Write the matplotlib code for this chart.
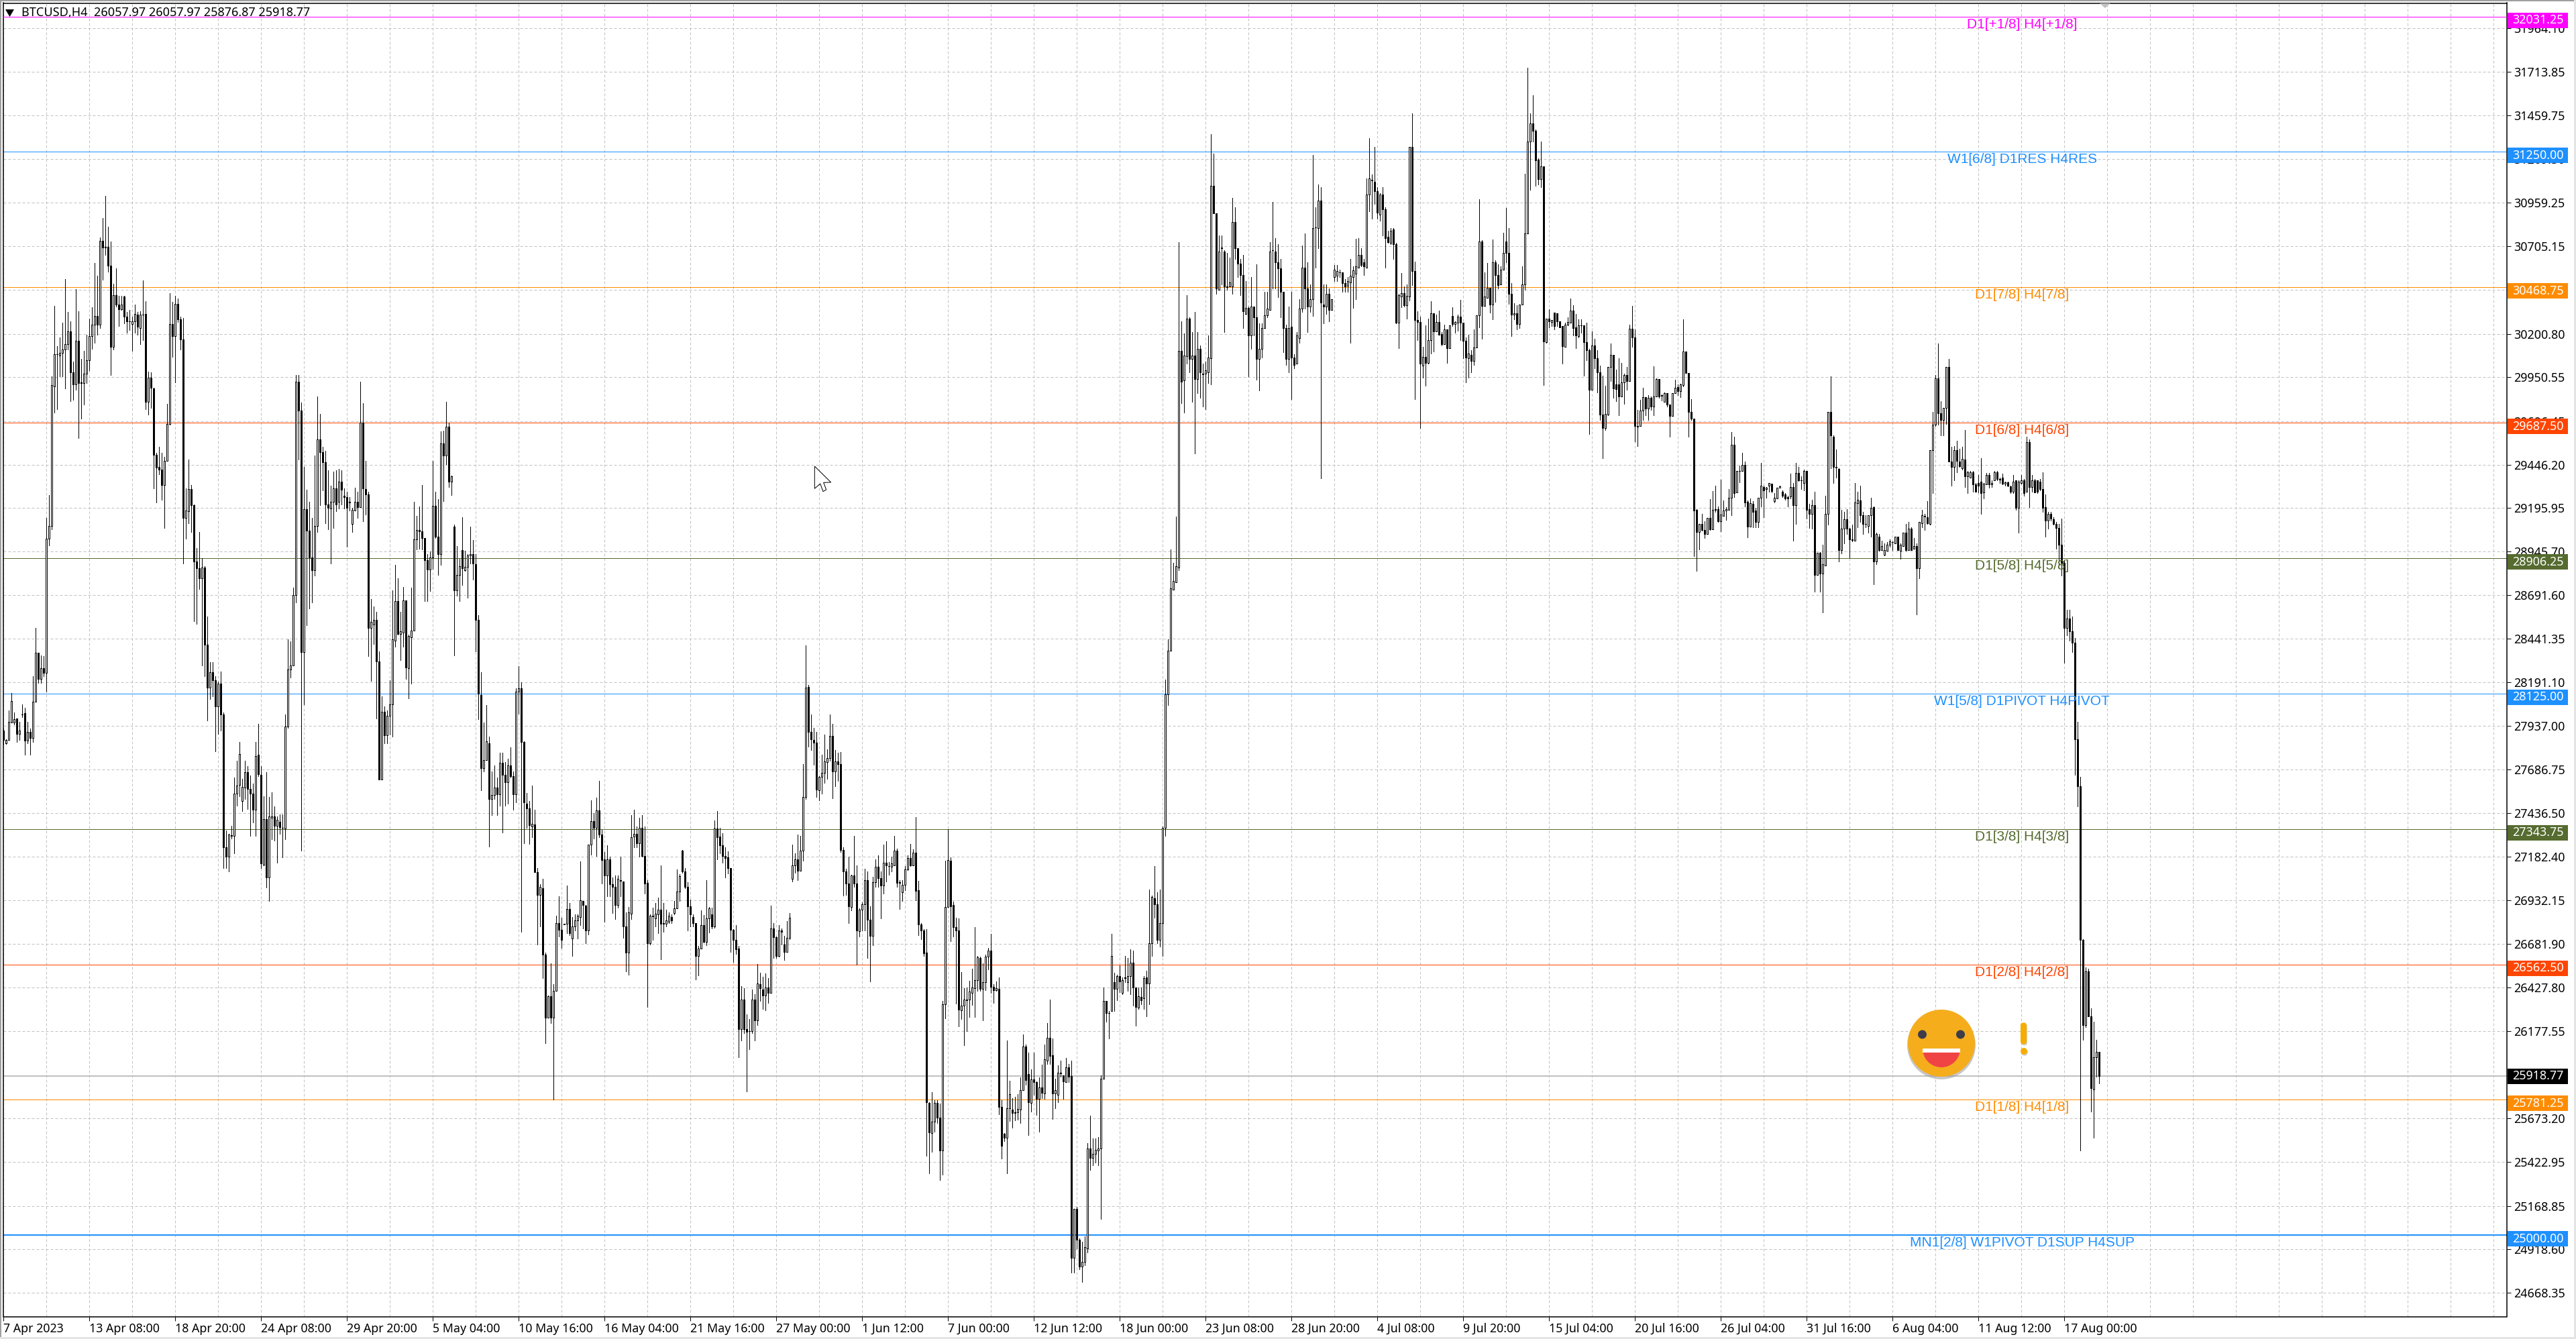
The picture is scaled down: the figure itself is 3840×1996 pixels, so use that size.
import numpy as np
import matplotlib
matplotlib.use('Agg')
import matplotlib.pyplot as plt
from matplotlib.patches import Ellipse, FancyBboxPatch, Polygon, Rectangle, Wedge

plt.rcParams['font.family'] = ['Noto Sans', 'DejaVu Sans']

# candles as (open, high, low, close), one list per stretch of the chart
bars_apr = [
(27911,27924,27831,27858),(27839,27860,27835,27858),(27858,28029,27858,27963),(27958,28127,27958,28082),(27958,28016,27945,27977),
(27982,27982,27845,27892),(27892,27963,27858,27911),(28005,28061,27990,28003),(28011,28043,27771,27852),(27852,27963,27837,27903),
(27903,27924,27771,27871),(27871,28227,27845,28077),(28077,28505,28077,28362),(28362,28362,28188,28209),(28209,28346,28188,28272),
(28272,28341,28227,28246),(28246,29138,28135,29019),(29019,29270,28980,29093),(29093,29957,29072,29904),(29898,30363,29745,30083),
(30083,30128,29767,30081),(30075,30181,29957,30089),(30089,30265,29957,30110),(30110,30516,29885,30141),(30141,30326,30110,30213),
(30213,30273,29811,29978),(29978,30041,29819,29909),(29909,30458,29877,30160),(30160,30331,29600,29917),(29917,30057,29711,29919),
(29917,30102,29793,29970),(29970,30194,29917,30049),(30049,30287,29991,30186),(30186,30353,30115,30255),(30255,30609,30149,30302),
(30302,30537,30194,30255),(30255,30757,30234,30738),(30738,30867,30511,30698),(30701,30997,30656,30700),(30701,30817,30558,30595),
(30595,30735,29962,30126),(30126,30490,30110,30424),(30424,30577,30358,30368),(30368,30419,30247,30342),(30342,30419,30339,30368),
(30416,30419,30260,30300),(30300,30326,30207,30273),(30273,30339,30221,30272),(30258,30300,30102,30273),(30273,30371,30207,30316),
(30313,30326,30194,30242),(30234,30331,30141,30310),(30313,30508,30163,30313),(30316,30387,29764,29809),(29809,29983,29735,29949),
(29949,29978,29772,29888),(29885,29891,29307,29503),(29503,29513,29228,29429),(29434,29547,29389,29418),(29418,29513,29244,29328),
(29328,29492,29080,29466),(29466,29798,29466,29682),(29682,30437,29677,30258),(30258,30384,30067,30189),(30189,30419,29922,30374),
(30374,30405,30268,30284),(30284,30300,30110,30168),(30168,30292,28874,29138),(29138,29310,29019,29180),(29178,29476,29107,29304),
(29304,29328,29059,29212),(29212,29217,28542,28887),(28887,28964,28526,28848),(28848,29059,28729,28790),(28790,28906,28288,28853),
(28853,28861,28225,28407),(28407,28571,27969,28161),(28161,28307,28095,28248),(28248,28307,28109,28201),(28201,28227,27792,28050),
(28050,28193,27892,28183),(28183,28254,27911,28003),(28003,28016,27119,27237),(27237,27335,27119,27185),(27185,27317,27100,27311),
(27309,27364,27290,27305),(27303,27639,27203,27549),(27549,27739,27480,27594),(27599,27845,27533,27776),(27507,27633,27449,27586),
(27581,27739,27515,27673),(27673,27707,27457,27575),(27575,27652,27303,27549),(27549,27607,27383,27454),(27454,27845,27303,27765),
(27771,27950,27647,27660),(27655,27707,27119,27145),(27137,27533,27132,27401),(27401,27673,27007,27066),(27066,27528,26929,27417),
(27409,27554,27285,27417),(27417,27475,27277,27364),(27364,27417,27150,27396),(27385,27428,27317,27354),(27351,27428,27179,27351),
(27348,28003,27285,27934),(27934,28439,27929,28262),(28262,28425,28219,28288),(28288,28737,28288,28695),(28695,29962,28650,29925),
(29925,29962,29476,29759),(29759,29803,27219,28365),(28365,29434,28064,29188),(29188,29302,28518,29064),(29064,29233,28615,28909),
(28909,29138,28650,28835),(28835,29500,28806,29091),(29091,29838,29059,29590),(29590,29740,29212,29518),(29518,29547,29297,29460),
(29460,29524,29107,29217),(29217,29415,29072,29196),(29191,29323,28874,29233),(29233,29407,29080,29307),(29307,29415,29178,29217),
(29233,29423,29191,29347),(29347,29415,29217,29302),(29265,29310,29191,29260),(29257,29291,28972,29196),(29230,29260,29180,29228),
]

bars_may = [
(29104,29197,29058,29184),(29181,29312,29180,29232),(29232,29290,29138,29202),(29202,29925,29202,29688),(29688,29802,29120,29309),
(29304,29469,29157,29274),(29274,29290,28341,28504),(28504,28672,28197,28538),(28522,28629,28410,28552),(28552,28597,27981,28312),
(28312,28367,27629,27629),(27629,28109,27629,28021),(28021,28050,27837,27885),(27885,28029,27837,27997),(27997,28202,27890,28063),
(28063,28722,27877,28437),(28431,28869,28397,28658),(28658,28792,28464,28469),(28469,28597,28317,28485),(28477,28741,28397,28664),
(28664,28664,28210,28277),(28272,28464,28096,28456),(28450,28736,28183,28490),(28488,29232,28488,29016),(29016,29152,28957,29069),
(29069,29205,28962,29061),(29061,29330,28957,29024),(29024,29024,28658,28896),(28896,28930,28658,28842),(28842,28944,28717,28909),
(28909,29469,28845,29210),(29210,29290,29024,29032),(29032,29245,28810,28930),(28930,29637,28869,29570),(29570,29642,29237,29498),
(29498,29810,29450,29664),(29664,29690,29317,29349),(29349,29384,29269,29378),(29090,29098,28344,28720),(28720,28976,28690,28810),
(28810,28904,28658,28858),(28954,29144,28752,28848),(28837,28949,28832,28856),(28856,28930,28677,28922),(28922,29090,28877,28930),
(28930,29010,28784,28877),(28872,28930,28370,28549),(28549,28576,27976,28125),(28117,28250,27567,27695),(27695,27957,27677,27743),
(27743,28058,27743,27850),(27839,27877,27242,27517),(27517,27677,27423,27541),(27541,27711,27517,27583),(27583,27642,27423,27543),
(27543,27783,27477,27727),(27727,27783,27325,27658),(27658,27730,27477,27615),(27615,27749,27490,27709),(27709,27815,27642,27650),
(27650,27677,27455,27543),(27543,28157,27498,28136),(28138,28285,28010,28157),(28157,28192,26749,27845),(27845,27850,27263,27498),
(27490,27551,27349,27463),(27463,27504,27258,27365),(27359,27594,27298,27375),(27370,27455,27095,27095),(27095,27117,26677,26965),
(26965,27024,26783,27010),(27002,27055,26482,26618),(26618,26631,26108,26255),(26255,26383,26255,26378),(26378,26570,26223,26255),
(26255,26450,25783,26410),(26410,26845,26410,26799),(26799,26957,26725,26762),(26762,26831,26658,26703),(26797,26797,26793,26795),
(26797,27018,26743,26882),(26882,26917,26730,26743),(26711,26837,26610,26783),(26783,26850,26757,26818),(26815,26850,26711,26842),
(26837,27157,26789,26933),(26930,26930,26770,26904),(26901,26906,26685,26757),(26757,27255,26735,27253),(27253,27509,27197,27391),
(27391,27437,27290,27351),(27351,27525,27189,27453),(27453,27623,27295,27311),(27311,27338,27029,27165),(27170,27210,26810,27077),
(27077,27250,26957,27170),(27170,27184,26957,27024),(27024,27063,26858,27010),(27010,27077,26823,26904),(26904,27077,26890,27058),
(27048,27184,26957,27046),(27042,27042,26717,26783),(26783,26863,26522,26629),(26629,26895,26503,26863),(26855,27423,26823,27298),
(27300,27455,27237,27314),(27314,27357,27237,27263),(27263,27410,27184,27349),(27349,27423,27184,27189),(27189,27357,26970,27029),
(27034,27050,26317,26685),(26685,26850,26677,26845),(26842,26890,26704,26840),(26829,26917,26783,26855),(26850,26949,26743,26877),
(26877,27135,26591,26797),(26799,26917,26749,26797),(26797,26877,26783,26815),(26810,26863,26802,26845),(26837,26850,26802,26815),
(26858,26930,26850,26885),(26885,27109,26885,26983),(26983,27082,26930,27071),(27218,27223,27090,27098),(27098,27117,27002,27010),
(27010,27037,26757,26898),(26898,26938,26783,26850),(26837,26850,26783,26802),(26802,26802,26477,26610),(26610,26671,26498,26655),
]

bars_jun = [
(26655,26873,26655,26789),(26789,26849,26689,26693),(26693,27049,26673,26829),(26829,26893,26745,26885),(26853,26889,26769,26783),
(26783,27393,26773,27345),(27345,27449,27169,27297),(27299,27349,27205,27249),(27249,27319,27149,27189),(27189,27239,27065,27177),
(27179,27215,27089,27119),(27119,27119,26633,26763),(26763,26765,26577,26703),(26703,26789,26623,26651),(26653,26669,26025,26189),
(26189,26439,26125,26361),(26361,26425,26165,26189),(26189,26273,25829,26175),(26179,26249,26073,26177),(26179,26417,26165,26361),
(26361,26389,26125,26239),(26239,26565,26213,26451),(26449,26513,26353,26425),(26419,26493,26305,26383),(26383,26509,26299,26429),
(26429,26485,26339,26399),(26399,26901,26399,26769),(26769,26799,26599,26719),(26719,26725,26599,26613),(26613,26789,26609,26759),
(26759,26769,26679,26749),(26679,26729,26589,26633),(26633,26813,26633,26717),(26717,26859,26709,26833),(27057,27255,27039,27135),
(27135,27205,27093,27169),(27169,27313,27049,27103),(27103,27305,27103,27219),(27219,27719,27159,27529),(27529,28403,27515,28159),
(28163,28173,27819,27905),(27905,28005,27799,27863),(27857,27929,27713,27843),(27843,27905,27529,27573),(27569,27649,27509,27645),
(27645,27773,27549,27669),(27669,27889,27609,27733),(27729,27805,27633,27753),(27753,28005,27739,27879),(27879,27949,27519,27675),
(27675,27799,27589,27733),(27733,27785,27623,27719),(27719,27789,27213,27223),(27223,27239,26959,27099),(27099,27113,26965,27029),
(27029,27185,26799,26899),(26895,27079,26873,27075),(27075,27303,27009,27029),(27029,27133,26561,26759),(26755,26885,26725,26879),
(26879,26919,26759,26909),(26909,27113,26759,27049),(27049,27099,26599,26819),(26819,26899,26465,26729),(26729,27069,26673,27037),
(27037,27169,27009,27125),(27125,27193,27009,27059),(27059,27099,26829,27019),(27019,27253,26973,27151),(27151,27273,27039,27133),
(27131,27153,27079,27129),(27127,27185,27099,27147),(27135,27303,27135,27217),(27217,27229,27009,27033),(27037,27049,26883,27035),
(26979,27049,26929,27021),(27021,27129,26989,27109),(27109,27193,27105,27175),(27175,27259,27129,27135),(27135,27225,27135,27209),
(27209,27413,26933,26985),(26989,27043,26733,26793),(26793,26799,26709,26759),(26759,26765,26613,26625),(26629,26765,25459,25769),
(25765,25769,25359,25593),(25589,25825,25483,25655),(25655,25779,25599,25763),(25763,25779,25649,25679),(25679,25759,25319,25489),
(25489,26353,25349,26333),(26333,27159,26253,26895),(26895,27343,26895,27163),(27159,27179,26695,26899),(26905,26925,26725,26779),
(26779,26833,26337,26759),(26759,26829,26205,26303),(26299,26519,26249,26325),(26325,26425,26097,26359),(26359,26429,26179,26357),
(26359,26469,26259,26405),(26399,26539,26329,26429),(26425,26777,26259,26473),(26473,26613,26409,26605),(26601,26609,26409,26423),
(26423,26569,26239,26461),(26459,26619,26413,26609),(26609,26659,26533,26641),(26641,26739,26399,26433),(26433,26449,26339,26413),
(26413,26465,26409,26425),(26423,26489,25697,25741),(25741,25779,25443,25517),(25585,25589,25545,25561),(25563,26123,25359,25733),
(25733,25893,25659,25813),(25725,25789,25619,25705),(25709,25799,25663,25707),(25709,25813,25665,25727),(25725,25909,25649,25839),
(25839,26159,25839,26089),(26089,26099,25869,25895),(25929,26053,25579,25769),(25765,25959,25713,25899),(25899,26053,25809,25883),
(25883,25887,25693,25785),(25785,25909,25599,25853),(25853,25983,25789,25823),(25819,26099,25785,26015),(26009,26223,25989,26139),
(26139,26359,25989,26033),
]

bars_jul = [
(26038,26136,25671,25819),(25819,25903,25734,25836),(25810,25979,25768,25937),(25937,26009,25916,25935),(25924,25924,25785,25886),
(25882,26022,25882,25967),(25967,25988,25882,25916),(25920,26009,24784,24869),(24869,25152,24784,25152),(25152,25164,24924,24974),
(24974,24983,24805,24818),(24818,24962,24730,24848),(24848,24995,24826,24932),(24924,25532,24902,25502),(25502,25692,25375,25447),
(25447,25557,25405,25468),(25468,25557,25418,25494),(25490,25565,25405,25502),(25502,25924,25093,25903),(25903,26431,25903,26351),
(26351,26351,26233,26283),(26283,26292,26136,26281),(26292,26739,26292,26613),(26461,26516,26292,26423),(26423,26503,26355,26495),
(26495,26558,26402,26465),(26397,26486,26389,26473),(26486,26613,26461,26484),(26461,26600,26410,26495),(26495,26651,26389,26571),
(26571,26642,26326,26431),(26431,26431,26207,26317),(26313,26431,26305,26380),(26376,26431,26334,26355),(26368,26495,26305,26482),
(26486,26528,26262,26453),(26453,26996,26334,26684),(26684,26959,26613,26951),(26946,27128,26832,26908),(26908,26980,26684,26706),
(26706,26993,26664,26799),(26799,27360,26613,27352),(27352,28205,27305,28120),(28120,28437,28057,28374),(28374,28957,28374,28733),
(28724,28881,28724,28775),(28767,29147,28767,28859),(28851,30730,28838,30101),(30101,30274,29801,29924),(29932,30202,29746,30076),
(30071,30422,30029,30287),(30287,30295,29979,30055),(30055,30211,29810,30076),(30076,30325,29510,29941),(29941,30211,29860,30114),
(30114,30135,29831,29979),(29970,30029,29780,29968),(29970,30042,29767,29991),(29979,30190,29915,30063),(30059,31351,29907,31055),
(31055,31241,30895,30895),(30895,30895,30430,30464),(30456,30768,30456,30675),(30697,30768,30485,30695),(30675,30684,30211,30473),
(30473,30667,30456,30471),(30473,30642,30473,30498),(30473,30984,30430,30844),(30844,30929,30633,30696),(30696,30696,30528,30604),
(30604,30633,30422,30540),(30540,30654,30232,30329),(30316,30506,30316,30350),(30350,30359,29957,30190),(30190,30528,30114,30359),
(30359,30359,30190,30295),(30295,30603,29936,30055),(30055,30261,29873,30114),(30114,30261,30063,30232),(30232,30443,30232,30308),
(30308,30443,30295,30346),(30338,30730,30338,30675),(30684,30962,30464,30682),(30675,30751,30464,30612),(30612,30718,30413,30578),
(30578,30633,30295,30443),(30443,30443,30093,30232),(30232,30253,30021,30055),(30055,30359,29979,30232),(30240,30443,29822,30063),
(30063,30084,30000,30021),(30029,30211,30029,30190),(30177,30401,30148,30346),(30346,30709,30325,30582),(30582,30781,30346,30464),
(30464,30612,30211,30359),(30359,30485,30325,30401),(30401,31233,30304,30810),(30815,30929,30582,30813),(30810,31064,30696,30971),
(30971,31047,29366,30380),(30371,30485,30261,30359),(30359,30485,30316,30430),(30430,30464,30274,30337),(30337,30401,30337,30401),
(30528,30599,30506,30570),(30536,30599,30506,30561),(30557,30570,30528,30555),(30557,30557,30443,30494),(30494,30515,30443,30473),
(30477,30528,30443,30506),(30498,30633,30148,30536),(30528,30591,30350,30566),(30549,30747,30401,30591),(30582,30751,30582,30654),
(30654,30696,30591,30599),(30612,30633,30540,30591),(30582,31098,30582,31005),(31005,31330,30908,31098),(31089,31119,30865,31087),
(31076,31279,30950,31022),(31022,31047,30865,30899),(30886,31013,30853,31005),(31005,31047,30768,30920),(30920,30929,30582,30751),
(30760,30794,30726,30730),(30726,30810,30718,30794),(30802,30810,30633,30718),(30718,30726,30261,30266),(30266,30430,30118,30422),
]

bars_jul_aug = [
(30417,30551,30354,30437),(30437,30472,30358,30364),(30364,30486,30289,30419),(30417,31277,30393,31277),(31277,31473,30482,30561),
(30561,30616,29825,30279),(30279,30330,30166,30267),(30267,30299,29657,30028),(30018,30127,29947,30066),(30066,30249,29900,30032),
(30032,30289,30028,30166),(30166,30389,30087,30318),(30320,30320,30097,30216),(30216,30311,30216,30267),(30267,30334,30196,30196),
(30200,30212,30133,30141),(30141,30255,30141,30226),(30226,30226,30034,30117),(30117,30251,30117,30251),(30305,30354,30245,30259),
(30259,30271,30206,30267),(30265,30311,30220,30301),(30299,30397,30166,30263),(30263,30263,30058,30162),(30162,30180,29920,30064),
(30058,30196,29949,30086),(30078,30107,29979,30044),(30044,30226,30022,30121),(30121,30307,30121,30307),(30307,30977,30239,30733),
(30733,30739,30170,30360),(30360,30555,30360,30417),(30409,30610,30409,30468),(30468,30468,30324,30370),(30370,30745,30285,30614),
(30614,30626,30383,30541),(30541,30600,30462,30482),(30486,30591,30486,30571),(30571,30784,30571,30666),(30735,30926,30614,30666),
(30668,30812,30374,30433),(30433,30492,30186,30310),(30310,30378,30285,30320),(30320,30364,30226,30259),(30259,30370,30235,30370),
(30370,30591,30370,30484),(30484,31123,30456,30780),(30780,31735,30780,31311),(31311,31473,31031,31413),(31413,31577,31311,31370),
(31370,31380,31054,31202),(31206,31212,31064,31094),(31094,31311,31048,31167),(31167,31167,29906,30157),(30151,30289,30147,30289),
(30289,30344,30239,30271),(30269,30279,30245,30279),(30324,30324,30226,30245),(30320,30320,30245,30271),(30271,30271,30239,30239),
(30245,30245,30028,30131),(30127,30265,30127,30255),(30255,30295,30251,30269),(30265,30403,30265,30334),(30334,30364,30192,30232),
(30236,30314,30117,30190),(30186,30285,30180,30251),(30251,30285,30206,30249),(30251,30251,29959,30151),(30151,30265,30048,30105),
(30105,30113,29624,29876),(29876,30216,29876,30133),(30133,30172,30003,30058),(30058,30107,29861,29979),(29979,30018,29703,29736),
(29736,29959,29482,29659),(29659,29900,29644,29738),(29736,30009,29732,30009),(30009,30143,29930,30078),(30078,30078,29831,29884),
(29910,29995,29811,29880),(29910,30058,29732,29841),(29841,30034,29841,29920),(29920,29969,29797,29963),(29963,30009,29876,29930),
(29930,30255,29930,30230),(30230,30360,30127,30180),(30180,30226,29580,29667),(29667,29762,29551,29665),(29667,29821,29667,29758),
(29756,29890,29703,29837),(29837,29837,29732,29768),(29768,29845,29703,29833),(29831,29841,29762,29782),(29782,30015,29732,29841),
(29841,29944,29841,29940),(29940,29940,29831,29841),(29845,29851,29815,29843),(29807,29861,29807,29857),(29857,29857,29782,29791),
(29791,29791,29608,29726),(29726,29857,29726,29857),(29857,29936,29857,29890),(29894,29910,29845,29870),(29870,29912,29837,29908),
(29904,30285,29896,30097),(30097,30097,29973,29973),(29973,29973,29608,29750),(29750,29825,29703,29711),(29711,29711,28917,29180),
(29184,29190,28831,29059),(29059,29105,28957,29105),(29105,29160,29064,29068),(29068,29121,29022,29046),(29046,29138,29046,29138),
(29138,29245,29068,29072),(29072,29292,29072,29184),(29188,29324,29174,29186),(29188,29206,29115,29121),(29121,29358,29062,29156),
(29150,29239,29150,29182),(29182,29200,29127,29190),(29186,29304,29186,29253),(29253,29634,29154,29561),(29559,29608,29259,29283),
(29285,29411,29285,29411),(29411,29442,29344,29409),(29411,29515,29411,29446),(29446,29462,29206,29229),(29233,29239,29028,29087),
(29087,29249,29087,29225),
]

bars_aug = [
(29220,29235,29084,29175),(29181,29196,29084,29114),(29114,29256,29084,29256),(29256,29457,29205,29323),(29317,29326,29144,29296),
(29305,29317,29256,29314),(29323,29341,29290,29338),(29335,29335,29287,29293),(29235,29281,29229,29256),(29250,29314,29250,29314),
(29314,29326,29311,29320),(29290,29296,29260,29266),(29275,29281,29244,29250),(29260,29266,29205,29250),(29263,29393,29250,29317),
(29317,29341,29008,29214),(29214,29457,29105,29396),(29396,29432,29350,29357),(29357,29378,29305,29355),(29341,29417,29296,29408),
(29408,29408,29135,29184),(29190,29220,29081,29160),(29160,29244,29075,29214),(29214,29290,28714,28811),(28811,28938,28811,28938),
(28938,28941,28714,28817),(28817,28984,28592,28871),(28865,29266,28865,29160),(29160,29751,29099,29751),(29751,29954,29426,29614),
(29605,29614,29341,29432),(29432,29533,29372,29430),(29423,29426,28886,28953),(28953,29184,28932,29075),(29075,29175,28993,29129),
(29129,29190,29044,29075),(29075,29081,28911,29014),(29014,29099,29002,29012),(29008,29341,29008,29229),(29223,29290,29084,29244),
(29241,29326,29114,29153),(29153,29175,29044,29105),(29105,29153,29084,29103),(29093,29153,29053,29153),(29153,29256,29032,29196),
(29199,29205,28756,28886),(28886,29053,28871,29044),(29032,29044,28947,28953),(28953,29008,28953,28977),(28926,28993,28923,28953),
(28947,28999,28947,28984),(28984,29014,28971,29002),(29000,29002,28953,28998),(28993,29032,28993,29029),(29029,29029,28953,28953),
(28947,28993,28902,28984),(28977,29053,28977,29053),(29053,29105,28947,28953),(28953,29114,28953,29078),(29078,29084,28953,28953),
(28959,29023,28959,28977),(28977,28993,28583,28850),(28850,29114,28789,29114),(29108,29184,29084,29153),(29150,29160,29069,29148),
(29141,29235,29105,29108),(29105,29530,29099,29530),(29530,29751,29281,29675),(29675,29963,29669,29942),(29942,30145,29675,29742),
(29742,29812,29614,29705),(29705,29772,29614,29772),(29772,30009,29681,30009),(30009,30054,29463,29463),(29463,29548,29326,29432),
(29432,29554,29357,29530),(29530,29584,29402,29469),(29463,29539,29432,29438),(29426,29548,29417,29478),(29475,29645,29317,29378),
(29378,29408,29281,29402),(29372,29408,29372,29402),(29402,29408,29290,29332),(29332,29341,29290,29290),(29341,29387,29287,29326),
(29347,29484,29160,29281),(29287,29341,29250,29335),(29332,29396,29332,29387),(29387,29396,29311,29332),(29332,29357,29317,29341),
(29354,29408,29354,29402),(29402,29408,29357,29363),(29363,29372,29341,29361),(29372,29393,29332,29335),(29335,29347,29323,29344),
(29344,29347,29320,29326),(29320,29326,29281,29290),(29290,29387,29281,29347),(29354,29357,29184,29196),(29196,29357,29053,29347),
(29341,29387,29335,29357),(29357,29363,29266,29281),(29290,29605,29290,29575),(29575,29590,29199,29317),(29317,29387,29290,29357),
(29357,29363,29287,29287),(29357,29357,29281,29290),(29347,29363,29296,29305),(29305,29402,29175,29196),(29202,29275,29029,29123),
(29123,29175,29075,29162),(29162,29175,29123,29135),(29129,29144,29099,29105),(29105,29114,28962,29081),(29081,29105,28871,28984),
(28984,29135,28805,28880),(28880,28893,28304,28504),(28504,28607,28462,28559),(28559,28607,28432,28486),(28486,28568,28365,28419),
(28419,28447,27658,27861),(27861,27961,27476,27591),(27591,27643,25489,26703),(26703,26709,26127,26211),(26211,26545,26202,26521),
(26521,26536,26263,26263),(26263,26308,25714,25847),(25841,26233,25562,26026),(26026,26127,25914,26057),(26057.97,26057.97,25876.87,25918.77),
]

sections = [(0, bars_apr), (130, bars_may), (260, bars_jun), (391, bars_jul), (521, bars_jul_aug), (652, bars_aug)]

price_ticks = [31964.10, 31713.85, 31459.75, 31209.50, 30959.25, 30705.15, 30454.90, 30200.80, 29950.55, 29696.45,
               29446.20, 29195.95, 28945.70, 28691.60, 28441.35, 28191.10, 27937.00, 27686.75, 27436.50, 27182.40,
               26932.15, 26681.90, 26427.80, 26177.55, 25923.45, 25673.20, 25422.95, 25168.85, 24918.60, 24668.35]

time_labels = ['7 Apr 2023', '13 Apr 08:00', '18 Apr 20:00', '24 Apr 08:00', '29 Apr 20:00', '5 May 04:00', '10 May 16:00',
               '16 May 04:00', '21 May 16:00', '27 May 00:00', '1 Jun 12:00', '7 Jun 00:00', '12 Jun 12:00', '18 Jun 00:00',
               '23 Jun 08:00', '28 Jun 20:00', '4 Jul 08:00', '9 Jul 20:00', '15 Jul 04:00', '20 Jul 16:00', '26 Jul 04:00',
               '31 Jul 16:00', '6 Aug 04:00', '11 Aug 12:00', '17 Aug 00:00']

level_prices = [32031.25, 31250.00, 30468.75, 29687.50, 28906.25, 28125.00, 27343.75, 26562.50, 25781.25, 25000.00]
level_names = ['D1[+1/8] H4[+1/8]', 'W1[6/8] D1RES H4RES', 'D1[7/8] H4[7/8]', 'D1[6/8] H4[6/8]', 'D1[5/8] H4[5/8]',
               'W1[5/8] D1PIVOT H4PIVOT', 'D1[3/8] H4[3/8]', 'D1[2/8] H4[2/8]', 'D1[1/8] H4[1/8]', 'MN1[2/8] W1PIVOT D1SUP H4SUP']
level_colors = ['#FF00FF', '#1E90FF', '#FF8C00', '#FF4500', '#556B2F', '#1E90FF', '#556B2F', '#FF4500', '#FF8C00', '#1E90FF']
level_widths = [0.72, 0.72, 0.72, 0.72, 0.72, 0.72, 0.72, 0.72, 0.72, 1.44]

last_price = 25918.77
header = 'BTCUSD,H4  26057.97 26057.97 25876.87 25918.77'

W, H = 3840, 1996
PX = 0.72  # one pixel in points at dpi 100
fig = plt.figure(figsize=(W / 100, H / 100), dpi=100, facecolor='white')

# price pane, placed by pixels
left, right, top, bottom = 4.5, 3736.5, 4.5, 1962.5
ax = fig.add_axes([left / W, 1 - bottom / H, (right - left) / W, (bottom - top) / H], zorder=1)
ax.set_xlim((left - 5.33) / 4, (right - 5.33) / 4)
ax.set_ylim(24531, 32109)

# grid
ax.set_xticks(np.arange(0, 800, 32), time_labels, ha='left', fontsize=12.8)
ax.set_xticks(np.arange(0, 933, 16), minor=True)
ax.set_yticks(price_ticks, ['%.2f' % p for p in price_ticks], fontsize=12.9)
ax.yaxis.tick_right()
ax.tick_params(axis='y', length=4, width=PX, pad=4)
ax.tick_params(axis='x', which='major', length=4, width=PX, pad=2.5)
ax.tick_params(axis='x', which='minor', length=0)
ax.grid(True, which='both', color='#c0c0c0', lw=PX, ls=(0, (4, 3)), zorder=0)
ax.set_axisbelow(True)
for s in ax.spines.values():
    s.set_linewidth(1.1)
    s.set_color('black')

# levels
for price, col, lw in zip(level_prices, level_colors, level_widths):
    ax.axhline(price, color=col, lw=lw, zorder=2, antialiased=False)
ax.axhline(last_price, color='#c0c0c0', lw=1.1, zorder=2, antialiased=False)

# candles
for start, rows in sections:
    rows = np.array(rows, dtype=float)
    xs = start + np.arange(len(rows))
    opens, highs, lows, closes = rows.T
    ax.vlines(xs, lows, highs, color='black', lw=PX, zorder=3, antialiased=False)
    up = closes >= opens
    ax.bar(xs[up], (closes - opens)[up], bottom=opens[up], width=0.5, facecolor='white', edgecolor='black',
           lw=PX, zorder=4, antialiased=False)
    ax.bar(xs[~up], (opens - closes)[~up], bottom=closes[~up], width=0.5, facecolor='black', edgecolor='black',
           lw=PX, zorder=4, antialiased=False)

for price, name, col in zip(level_prices, level_names, level_colors):
    ax.annotate(name, (752.2, price), xytext=(0, -8.3), textcoords='offset points', ha='center', va='center',
                color=col, fontsize=15, family=['Liberation Sans'], zorder=6)

# everything placed by pixel goes on a full-figure layer
ov = fig.add_axes([0, 0, 1, 1], zorder=5)
ov.set_xlim(0, W)
ov.set_ylim(H, 0)
ov.axis('off')


def price_to_y(p):
    return H - ax.transData.transform((0, p))[1]


# price tags on the right edge, the last-price tag sits centred on its line
for p, col in zip(level_prices, level_colors):
    y = price_to_y(p)
    ov.add_patch(Rectangle((3738, y - 6), 90, 23, facecolor=col, edgecolor='none'))
    ov.text(3745, y + 5.5, '%.2f' % p, color='white', fontsize=12.9, va='center', ha='left')
y_last = price_to_y(last_price)
ov.add_patch(Rectangle((3738, y_last - 11), 90, 23, facecolor='black', edgecolor='none'))
ov.text(3745, y_last + 0.5, '%.2f' % last_price, color='white', fontsize=12.9, va='center', ha='left')

# window edges
ov.add_patch(Rectangle((0, 0), W, 2, facecolor='#a0a0a0', edgecolor='none'))
ov.add_patch(Rectangle((0, 0), 2, H, facecolor='#a0a0a0', edgecolor='none'))
ov.add_patch(Rectangle((3837, 0), 3, H, facecolor='#e4e4e4', edgecolor='none'))
ov.add_patch(Rectangle((0, 1993), W, 3, facecolor='#e4e4e4', edgecolor='none'))

# header
ov.add_patch(Polygon([(8, 14), (21, 14), (14.5, 25)], closed=True, facecolor='black', edgecolor='none'))
ov.text(32.5, 19, header, fontsize=13.05, va='center', ha='left', color='black', zorder=1)
ov.axhline(price_to_y(level_prices[0]), xmin=4.5 / W, xmax=3736 / W, color=level_colors[0], lw=PX, zorder=2, antialiased=False)

# chart shift marker
ov.add_patch(Polygon([(3130, 5), (3146, 5), (3138, 12)], closed=True, facecolor='#c0c0c0', edgecolor='none'))

# mouse cursor
cur = [(343, 165), (416, 237), (383, 238), (395, 270), (381, 278), (368, 243), (343, 265)]
ov.add_patch(Polygon([(1100 + a / 3, 640 + b / 3) for a, b in cur], closed=True, facecolor='white', edgecolor='black', lw=PX))

# smiley
cx, cy = 2894, 1555
ov.add_patch(Ellipse((cx, cy + 3), 102, 102, facecolor='#9a9a9a', edgecolor='none', alpha=0.55))
ov.add_patch(Ellipse((cx, cy), 100, 100, facecolor='#F5AD1C', edgecolor='none'))
for dx in (-28.5, 28.5):
    ov.add_patch(Ellipse((cx + dx, cy - 13), 13, 13, facecolor='#3D3D4A', edgecolor='none'))
ov.add_patch(Wedge((cx, 1563), 28, 0, 180, facecolor='#F04444', edgecolor='none'))
ov.add_patch(Rectangle((cx - 28, 1563), 56, 6, facecolor='white', edgecolor='none'))

# exclamation mark with a soft shadow
ov.add_patch(FancyBboxPatch((3015.5, 1529), 4, 27, boxstyle='round,pad=2.5,rounding_size=4', facecolor='#b8b8b8',
                            edgecolor='none', alpha=0.6))
ov.add_patch(Ellipse((3018, 1569), 10, 10, facecolor='#b8b8b8', edgecolor='none', alpha=0.6))
ov.add_patch(FancyBboxPatch((3014.5, 1527), 4, 27, boxstyle='round,pad=2.5,rounding_size=4', facecolor='#F5AD00',
                            edgecolor='none'))
ov.add_patch(Ellipse((3017, 1567), 10, 10, facecolor='#F5AD00', edgecolor='none'))

fig.savefig('out.png', dpi=100)
